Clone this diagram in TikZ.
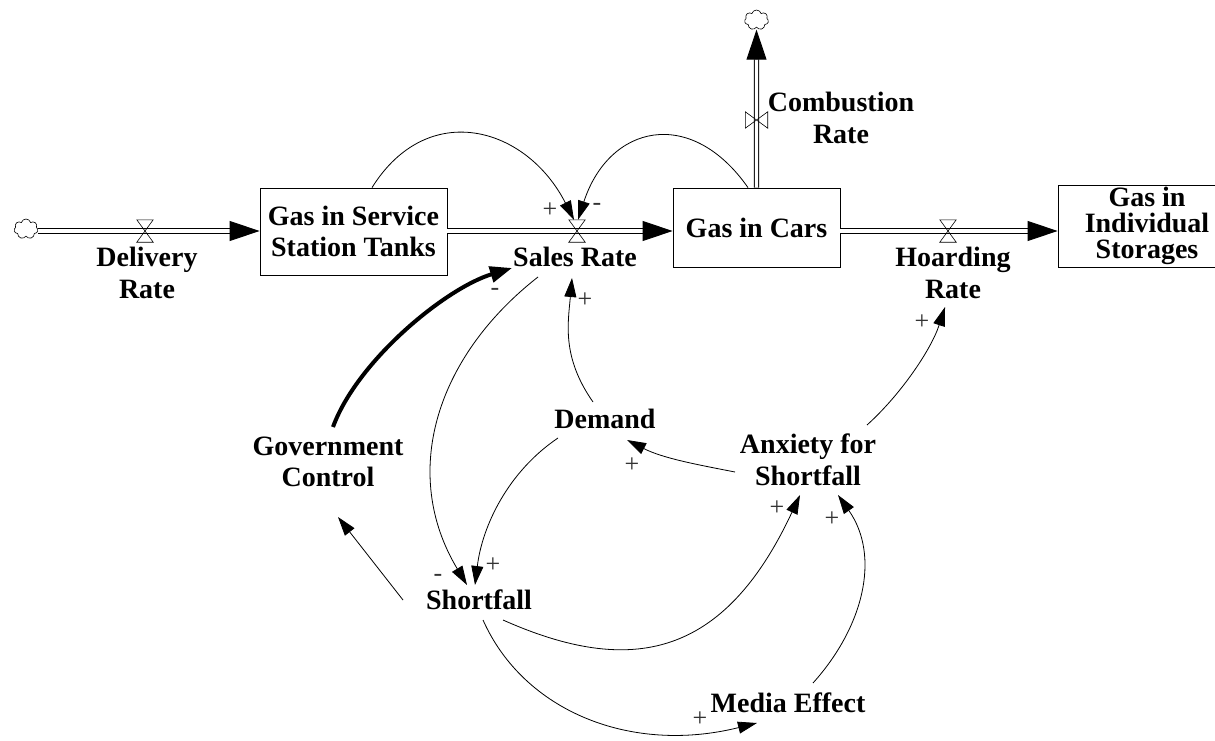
\documentclass[tikz,border=0pt]{standalone}
\usepackage{fontspec}
\setmainfont{Liberation Serif}
\usetikzlibrary{arrows.meta,
                shapes.symbols}

\tikzset{
  stock/.style = {draw, line width=0.8pt, align=center, inner sep=0pt,
                  font=\bfseries\fontsize{28}{31.5}\selectfont},
  aux/.style = {align=center, inner sep=1pt,
                font=\bfseries\fontsize{28}{31.5}\selectfont},
  source/.style = {cloud, cloud puffs=7, cloud puff arc=150, draw, line width=0.6pt,
                   minimum width=24pt, minimum height=20pt, inner sep=0pt},
  valvebox/.style = {minimum width=16pt, minimum height=22pt, inner sep=0pt},
  valve/.style = {line width=0.6pt},
  pipe/.style = {double, double distance=3.4pt, line width=0.9pt,
                 -{Triangle[length=30pt, width=20pt]}},
  link/.style = {line width=0.8pt, -{Triangle[length=19pt, width=12pt]}},
  strong/.style = {line width=4pt, -{Triangle[length=22pt, width=16pt]}},
  sign/.style = {text=black!80, font=\fontsize{26}{26}\selectfont, inner sep=0pt}
}

\begin{document}
\begin{tikzpicture}[x=1pt, y=1pt]
    \useasboundingbox (0,0) rectangle (1215,-741);

    \node[stock, minimum width=187pt, minimum height=87pt] (tanks) at (353.5,-231.5) {Gas in Service\\Station Tanks};
    \node[stock, minimum width=167pt, minimum height=79pt] (cars) at (756.5,-227.5) {Gas in Cars};
    \node[stock, minimum width=178pt, minimum height=82pt,
          font=\bfseries\fontsize{28}{26}\selectfont] (indiv) at (1147,-226) {Gas in\\Individual\\Storages};

    \node[source] (src) at (26,-229) {};
    \node[source] (sink) at (756.5,-20) {};
    \node[valvebox] (dv) at (145,-231) {};
    \node[valvebox] (sv) at (577,-231) {};
    \node[valvebox] (hv) at (948,-231) {};
    \node[valvebox, minimum width=22pt, minimum height=16pt] (cv) at (756.5,-120) {};

    \draw[pipe] (src.east |- dv) -- (tanks.west |- dv);
    \draw[pipe] (tanks.east |- sv) -- (cars.west |- sv);
    \draw[pipe] (cars.east |- hv) -- (indiv.west |- hv);
    \draw[pipe, shorten >=2pt] (cars.north) -- (sink.south);

    \foreach \v in {dv, sv, hv}
        \draw[valve] (\v.north west) -- (\v.south east) -- (\v.south west) -- (\v.north east) -- cycle;
    \draw[valve] (cv.north west) -- (cv.south west) -- (cv.north east) -- (cv.south east) -- cycle;

    \node[aux] (delivery) at (147,-273) {Delivery\\Rate};
    \node[aux] (salesrate) at (575,-257) {Sales Rate};
    \node[aux] (hoarding) at (953,-273) {Hoarding\\Rate};
    \node[aux] (combustion) at (841,-118) {Combustion\\Rate};

    \node[aux] (gov) at (328,-462) {Government\\Control};
    \node[aux] (demand) at (605,-419) {Demand};
    \node[aux] (anxiety) at (808,-460) {Anxiety for\\Shortfall};
    \node[aux] (shortfall) at (479,-600) {Shortfall};
    \node[aux] (media) at (788,-703) {Media Effect};

    \draw[link] ([xshift=18.5pt]tanks.north) .. controls +(58:105) and +(117:105) .. ([xshift=-3pt]sv.north);
    \draw[link] ([xshift=-8.5pt]cars.north) .. controls +(125:100) and +(72:100) .. ([xshift=1pt]sv.north);
    \draw[strong] ([shift={(5,35)}]gov.center) .. controls +(70:70) and +(197:70) .. ([shift={(-63,-11)}]salesrate.center);
    \draw[link] ([shift={(-37,-20)}]salesrate.center) .. controls +(218:130) and +(121:130) .. ([shift={(-12,15)}]shortfall.center);
    \draw[link] ([shift={(-12,17)}]demand.center) .. controls +(125:55) and +(265:45) .. ([shift={(-3,-21)}]salesrate.center);
    \draw[link] ([shift={(-47,-19)}]demand.center) .. controls +(214:60) and +(83:60) .. ([shift={(-4,15)}]shortfall.center);
    \draw[link] ([shift={(-73,-12)}]anxiety.center) .. controls +(169:40) and +(333:40) .. ([shift={(22,-21)}]demand.center);
    \draw[link] ([shift={(59,35)}]anxiety.center) .. controls +(42:45) and +(252:45) .. ([shift={(-8,-34)}]hoarding.center);
    \draw[link] ([xshift=-76pt]shortfall.center) -- ([shift={(10,-55)}]gov.center);
    \draw[link] ([shift={(24,-20)}]shortfall.center) .. controls +(336:140) and +(245:180) .. ([shift={(-8,-35)}]anxiety.center);
    \draw[link] ([shift={(4,-20)}]shortfall.center) .. controls +(294:100) and +(194:130) .. ([shift={(-31,-20)}]media.center);
    \draw[link] ([shift={(25,20)}]media.center) .. controls +(48:75) and +(305:75) .. ([shift={(30,-35)}]anxiety.center);

    \foreach \x/\y/\sg [count=\i] in {550/-210/+, 597/-207/-, 495/-292/-, 585/-300/+,
            438/-578/-, 493/-565/+, 632/-465/+, 922/-322/+, 777/-508/+, 832/-519/+, 700/-719/+}
        \node[sign] (sign\i) at (\x,\y) {\sg};
\end{tikzpicture}
\end{document}
